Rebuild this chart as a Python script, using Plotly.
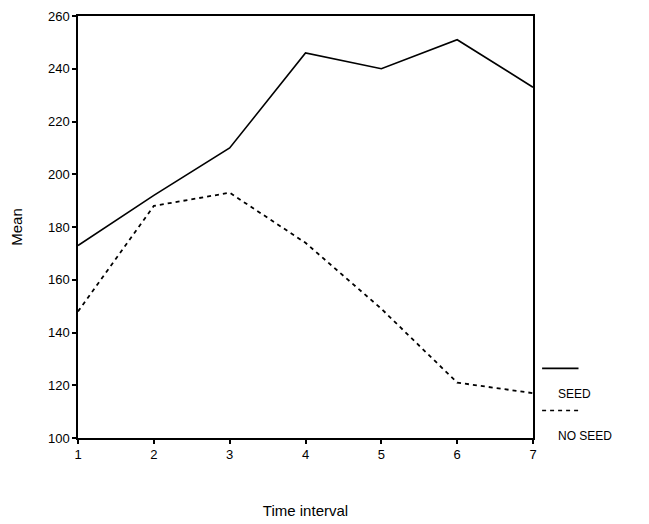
import plotly.graph_objects as go

time_interval = [1, 2, 3, 4, 5, 6, 7]
seed_mean = [173, 192, 210, 246, 240, 251, 233]
no_seed_mean = [148, 188, 193, 174, 149, 121, 117]
series_names = ["SEED", "NO SEED"]
y_ticks = [100, 120, 140, 160, 180, 200, 220, 240, 260]

FONT = "Liberation Sans, Arial, sans-serif"

fig = go.Figure()
fig.add_trace(go.Scatter(x=time_interval, y=seed_mean, mode="lines", name=series_names[0],
                         line=dict(color="black", width=1.6, dash="solid")))
fig.add_trace(go.Scatter(x=time_interval, y=no_seed_mean, mode="lines", name=series_names[1],
                         line=dict(color="black", width=1.8, dash="4px,4px")))

axis_common = dict(showline=True, linecolor="black", linewidth=1.5, mirror=True,
                   showgrid=False, zeroline=False, ticks="outside", ticklen=4,
                   tickwidth=2, tickcolor="black", automargin=False,
                   tickfont=dict(family=FONT, size=13, color="black"))

fig.update_xaxes(range=[1, 7], tickvals=time_interval,
                 title=dict(text="Time interval", font=dict(family=FONT, size=15, color="black"), standoff=44),
                 **axis_common)
fig.update_yaxes(range=[100, 260], tickvals=y_ticks,
                 title=dict(text="Mean", font=dict(family=FONT, size=15, color="black"), standoff=24),
                 **axis_common)

# custom legend: line sample above its label
legend_rows = [(series_names[0], "solid", 0.165, 0.105), (series_names[1], "4px,4px", 0.065, 0.005)]
for name, dash, y_line, y_text in legend_rows:
    fig.add_shape(type="line", xref="paper", yref="paper", x0=1.02, x1=1.1, y0=y_line, y1=y_line,
                  line=dict(color="black", width=1.6, dash=dash))
    fig.add_annotation(xref="paper", yref="paper", x=1.05, y=y_text, xanchor="left", yanchor="middle",
                       text=name, showarrow=False, font=dict(family=FONT, size=12, color="black"))

fig.update_layout(width=641, height=516, showlegend=False,
                  margin=dict(l=70, r=116, t=8, b=86),
                  paper_bgcolor="white", plot_bgcolor="white")

fig.write_html("out.html")
